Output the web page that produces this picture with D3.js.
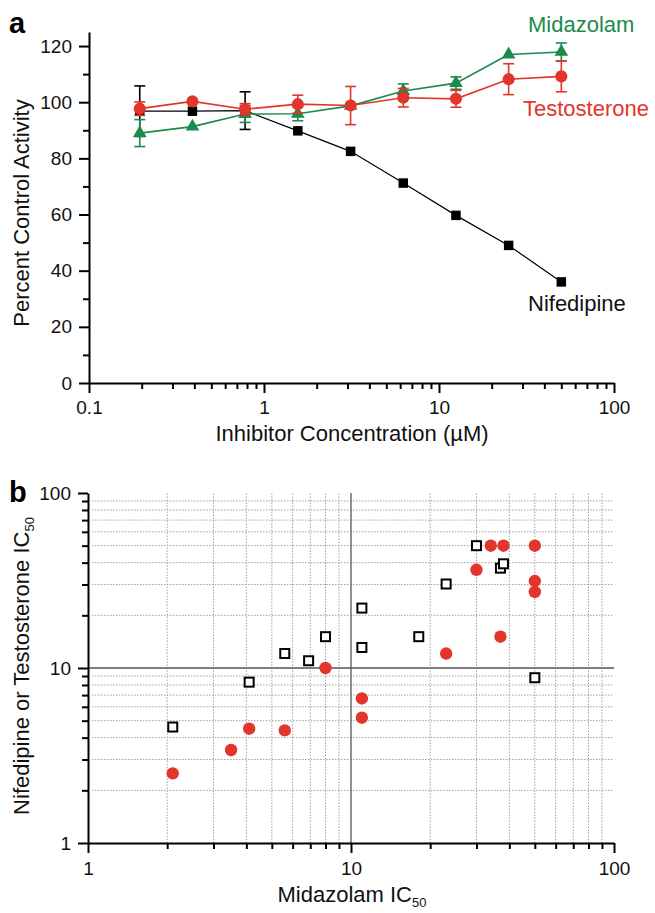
<!DOCTYPE html>
<html>
<head>
<meta charset="utf-8">
<script src="https://cdn.jsdelivr.net/npm/d3@7"></script>
<style>
  body { margin: 0; background: #fff; }
  text { font-family: "Liberation Sans", Arial, sans-serif; }
</style>
</head>
<body>
<script>
// panel a: percent control activity vs inhibitor concentration
const concentrations = [0.195, 0.39, 0.78, 1.56, 3.125, 6.25, 12.5, 25, 50];
const nifedipineMean = [96.8, 96.8, 97, 89.8, 82.5, 71.2, 59.7, 49, 36];
const nifedipineErr = [9, 0, 6.7, 0, 0, 0, 0, 0, 0];
const testosteroneMean = [97.7, 100.3, 97.5, 99.3, 98.8, 101.6, 101.2, 108.2, 109.2];
const testosteroneErr = [2.4, 0, 2, 3.2, 6.8, 3.3, 3, 5.5, 5.5];
const midazolamMean = [89, 91.3, 95.8, 95.9, 98.7, 104, 106.8, 117, 117.9];
const midazolamErr = [4.8, 0, 3, 2.5, 0, 2.5, 2.2, 0, 3.2];

const activityTicks = [0, 20, 40, 60, 80, 100, 120];
const concTicks = [0.1, 1, 10, 100];

// panel b: IC50 correlation
const nifedipineX = [2.1, 4.1, 5.6, 6.9, 8.0, 11.0, 11.0, 18.1, 23.0, 30.0, 37.0, 38.0, 50];
const nifedipineY = [4.6, 8.3, 12.1, 11.0, 15.1, 22, 13.1, 15.1, 30.2, 50, 37.2, 39.4, 8.8];
const testosteroneX = [2.1, 3.5, 4.1, 5.6, 8.0, 11.0, 11.0, 23.0, 30.0, 34.0, 38.0, 37.0, 50, 50, 50];
const testosteroneY = [2.5, 3.4, 4.5, 4.4, 10.0, 6.7, 5.2, 12.1, 36.4, 50, 50, 15.1, 50, 31.4, 27.2];

const ic50Ticks = [1, 10, 100];

const width = 655;
const height = 913;
const green = "#1b8a4b";
const red = "#e2352b";

const svg = d3
  .select("body")
  .append("svg")
  .attr("width", width)
  .attr("height", height);

const logMinors = (lo, hi) => {
  const out = [];
  for (let dec = lo; dec < hi; dec *= 10) {
    for (let k = 2; k <= 9; k++) out.push(dec * k);
  }
  return out;
};

const styleAxis = (g, fontSize) => {
  g.select(".domain").attr("stroke", "#000").attr("stroke-width", 2);
  g.selectAll(".tick line").attr("stroke", "#000").attr("stroke-width", 2);
  g.selectAll(".tick text")
    .attr("fill", "#111")
    .attr("font-size", fontSize)
    .attr("font-family", '"Liberation Sans", Arial, sans-serif');
};

// ---------- panel a ----------
const xA = d3.scaleLog().domain([0.1, 100]).range([89, 614]);
const yA = d3.scaleLinear().domain([0, 125]).range([383, 32]);

const panelA = svg.append("g");

panelA
  .append("g")
  .attr("transform", `translate(0,${yA(0)})`)
  .call(d3.axisBottom(xA).tickValues(logMinors(0.1, 100)).tickSize(6).tickFormat(""))
  .call((g) => styleAxis(g, 19))
  .select(".domain")
  .remove();

panelA
  .append("g")
  .attr("transform", `translate(0,${yA(0)})`)
  .call(
    d3.axisBottom(xA).tickValues(concTicks).tickSize(10).tickSizeOuter(0).tickPadding(8).tickFormat((d) => d)
  )
  .call((g) => styleAxis(g, 19));

panelA
  .append("g")
  .attr("transform", `translate(${xA(0.1)},0)`)
  .call(d3.axisLeft(yA).tickValues([10, 30, 50, 70, 90, 110]).tickSize(6).tickFormat(""))
  .call((g) => styleAxis(g, 19))
  .select(".domain")
  .remove();

panelA
  .append("g")
  .attr("transform", `translate(${xA(0.1)},0)`)
  .call(d3.axisLeft(yA).tickValues(activityTicks).tickSize(10).tickSizeOuter(0).tickPadding(7))
  .call((g) => styleAxis(g, 19));

const series = [
  { name: "Nifedipine", mean: nifedipineMean, err: nifedipineErr, color: "#000", shape: "square", lw: 1.2 },
  { name: "Midazolam", mean: midazolamMean, err: midazolamErr, color: green, shape: "triangle", lw: 1.6 },
  { name: "Testosterone", mean: testosteroneMean, err: testosteroneErr, color: red, shape: "circle", lw: 1.6 },
];

const symbols = {
  square: d3.symbol().type(d3.symbolSquare).size(90),
  triangle: d3.symbol().type(d3.symbolTriangle).size(80),
  circle: d3.symbol().type(d3.symbolCircle).size(115),
};

series.forEach((s) => {
  const pts = concentrations.map((c, i) => ({ c, m: s.mean[i], e: s.err[i] }));
  const g = panelA.append("g");

  g.append("path")
    .datum(pts)
    .attr("fill", "none")
    .attr("stroke", s.color)
    .attr("stroke-width", s.lw)
    .attr("d", d3.line().x((d) => xA(d.c)).y((d) => yA(d.m)));

  const bars = g
    .selectAll(".err")
    .data(pts.filter((d) => d.e > 0))
    .enter()
    .append("g")
    .attr("stroke", s.color)
    .attr("stroke-width", 1.6);
  bars
    .append("line")
    .attr("x1", (d) => xA(d.c))
    .attr("x2", (d) => xA(d.c))
    .attr("y1", (d) => yA(d.m - d.e))
    .attr("y2", (d) => yA(d.m + d.e));
  [-1, 1].forEach((sign) => {
    bars
      .append("line")
      .attr("x1", (d) => xA(d.c) - 5.5)
      .attr("x2", (d) => xA(d.c) + 5.5)
      .attr("y1", (d) => yA(d.m + sign * d.e))
      .attr("y2", (d) => yA(d.m + sign * d.e));
  });

  g.selectAll(".pt")
    .data(pts)
    .enter()
    .append("path")
    .attr("transform", (d) => `translate(${xA(d.c)},${yA(d.m)})`)
    .attr("d", symbols[s.shape])
    .attr("fill", s.color);
});

// series labels
panelA
  .append("text")
  .text("Midazolam")
  .attr("x", 528)
  .attr("y", 32)
  .attr("font-size", 22)
  .attr("fill", green);
panelA
  .append("text")
  .text("Testosterone")
  .attr("x", 523)
  .attr("y", 116)
  .attr("font-size", 22)
  .attr("fill", red);
panelA
  .append("text")
  .text("Nifedipine")
  .attr("x", 528)
  .attr("y", 311)
  .attr("font-size", 22)
  .attr("fill", "#111");

panelA
  .append("text")
  .text("Inhibitor Concentration (\u00b5M)")
  .attr("x", 352)
  .attr("y", 441)
  .attr("text-anchor", "middle")
  .attr("font-size", 22)
  .attr("fill", "#111");

panelA
  .append("text")
  .text("Percent Control Activity")
  .attr("transform", "translate(29,213) rotate(-90)")
  .attr("text-anchor", "middle")
  .attr("font-size", 22)
  .attr("fill", "#111");

panelA
  .append("text")
  .text("a")
  .attr("x", 9)
  .attr("y", 33)
  .attr("font-size", 29)
  .attr("font-weight", "bold");

// ---------- panel b ----------
const xB = d3.scaleLog().domain([1, 100]).range([88, 614]);
const yB = d3.scaleLog().domain([1, 100]).range([843, 493]);

const panelB = svg.append("g");
const minorsB = logMinors(1, 100);

// dotted grid
panelB
  .selectAll(".vgrid")
  .data(minorsB)
  .enter()
  .append("line")
  .attr("x1", (d) => xB(d))
  .attr("x2", (d) => xB(d))
  .attr("y1", yB(1))
  .attr("y2", yB(100))
  .attr("stroke", "#a0a0a0")
  .attr("stroke-width", 1)
  .attr("stroke-dasharray", "1.5,1.5");
panelB
  .selectAll(".hgrid")
  .data(minorsB)
  .enter()
  .append("line")
  .attr("x1", xB(1) + 4)
  .attr("x2", xB(100))
  .attr("y1", (d) => yB(d))
  .attr("y2", (d) => yB(d))
  .attr("stroke", "#a0a0a0")
  .attr("stroke-width", 1)
  .attr("stroke-dasharray", "1.5,1.5");

// solid lines at 10
panelB
  .append("line")
  .attr("x1", xB(10))
  .attr("x2", xB(10))
  .attr("y1", yB(1))
  .attr("y2", yB(100))
  .attr("stroke", "#555")
  .attr("stroke-width", 1.3);
panelB
  .append("line")
  .attr("x1", xB(1))
  .attr("x2", xB(100))
  .attr("y1", yB(10))
  .attr("y2", yB(10))
  .attr("stroke", "#555")
  .attr("stroke-width", 1.3);

panelB
  .append("g")
  .attr("transform", `translate(0,${yB(1)})`)
  .call(d3.axisBottom(xB).tickValues(minorsB).tickSize(6).tickFormat(""))
  .call((g) => styleAxis(g, 19))
  .select(".domain")
  .remove();
panelB
  .append("g")
  .attr("transform", `translate(0,${yB(1)})`)
  .call(d3.axisBottom(xB).tickValues(ic50Ticks).tickSize(10).tickSizeOuter(0).tickPadding(9).tickFormat((d) => d))
  .call((g) => styleAxis(g, 19));

panelB
  .append("g")
  .attr("transform", `translate(${xB(1)},0)`)
  .call(d3.axisLeft(yB).tickValues(minorsB).tickSize(6).tickFormat(""))
  .call((g) => styleAxis(g, 19))
  .select(".domain")
  .remove();
panelB
  .append("g")
  .attr("transform", `translate(${xB(1)},0)`)
  .call(d3.axisLeft(yB).tickValues(ic50Ticks).tickSize(10).tickSizeOuter(0).tickPadding(7).tickFormat((d) => d))
  .call((g) => styleAxis(g, 19));

// open squares = nifedipine, red dots = testosterone
panelB
  .selectAll(".sq")
  .data(nifedipineX.map((x, i) => [x, nifedipineY[i]]))
  .enter()
  .append("rect")
  .attr("x", (d) => xB(d[0]) - 4.5)
  .attr("y", (d) => yB(d[1]) - 4.5)
  .attr("width", 9)
  .attr("height", 9)
  .attr("fill", "#fff")
  .attr("stroke", "#000")
  .attr("stroke-width", 2);

panelB
  .selectAll(".dot")
  .data(testosteroneX.map((x, i) => [x, testosteroneY[i]]))
  .enter()
  .append("circle")
  .attr("cx", (d) => xB(d[0]))
  .attr("cy", (d) => yB(d[1]))
  .attr("r", 6.2)
  .attr("fill", red);

const xTitle = panelB
  .append("text")
  .attr("x", 352)
  .attr("y", 902)
  .attr("text-anchor", "middle")
  .attr("font-size", 22)
  .attr("fill", "#111");
xTitle.append("tspan").text("Midazolam IC");
xTitle.append("tspan").text("50").attr("font-size", 13).attr("dy", 5);

const yTitle = panelB
  .append("text")
  .attr("transform", "translate(29,666) rotate(-90)")
  .attr("text-anchor", "middle")
  .attr("font-size", 22)
  .attr("fill", "#111");
yTitle.append("tspan").text("Nifedipine or Testosterone IC");
yTitle.append("tspan").text("50").attr("font-size", 13).attr("dy", 5);

panelB
  .append("text")
  .text("b")
  .attr("x", 9)
  .attr("y", 502)
  .attr("font-size", 29)
  .attr("font-weight", "bold");
</script>
</body>
</html>
